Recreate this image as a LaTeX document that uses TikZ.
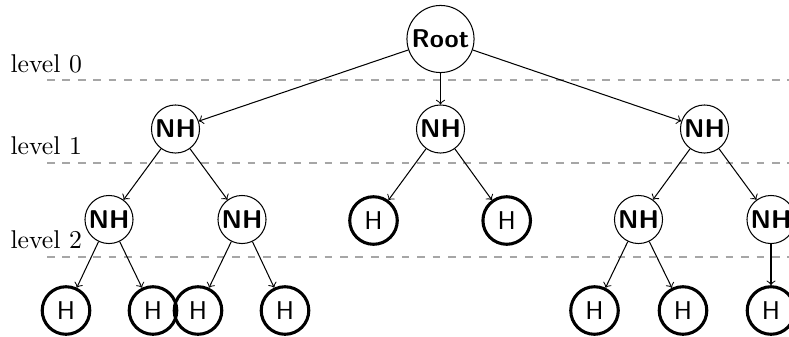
\documentclass[tikz,border=0pt]{standalone}
\begin{document}
\begin{tikzpicture}[x=0.389pt,y=-0.389pt,
  rootnode/.style={circle,draw,inner sep=0pt,minimum size=26.1pt,font=\sffamily\bfseries},
  inner/.style={circle,draw,inner sep=0pt,minimum size=18.7pt,font=\sffamily\bfseries},
  leaf/.style={circle,draw,line width=1.2pt,inner sep=0pt,minimum size=18.5pt,font=\sffamily},
  link/.style={->},
  levelline/.style={draw=gray!70,line width=0.5pt,dash pattern=on 3pt off 3pt},
  levellabel/.style={anchor=base west,inner sep=0pt}]
\useasboundingbox (0,0) rectangle (789,336);

% level separators
\foreach \i/\y in {0/80,1/163,2/257}{
  \coordinate (s\i) at (47,\y);
  \coordinate (e\i) at (789,\y);
  \draw[levelline] (s\i) -- (e\i);
}
\node[levellabel] (lv0) at (10,72) {level 0};
\node[levellabel] (lv1) at (10,154) {level 1};
\node[levellabel] (lv2) at (10,248) {level 2};

% root
\node[rootnode] (root) at (440.5,39) {Root};

% level 1
\node[inner] (a) at (175.5,129) {NH};
\node[inner] (b) at (440.5,129) {NH};
\node[inner] (c) at (704.5,129) {NH};

% level 2
\node[inner] (aa) at (109,219.5) {NH};
\node[inner] (ab) at (242,219.5) {NH};
\node[leaf]  (ba) at (373.5,220.5) {H};
\node[leaf]  (bb) at (506.7,220.5) {H};
\node[inner] (ca) at (638.5,219.5) {NH};
\node[inner] (cb) at (771,219.5) {NH};

% level 3
\node[leaf] (aaa) at (66,310.5) {H};
\node[leaf] (aab) at (153,310.5) {H};
\node[leaf] (aba) at (198,310.5) {H};
\node[leaf] (abb) at (285,310.5) {H};
\node[leaf] (caa) at (594.5,310.5) {H};
\node[leaf] (cab) at (683,310.5) {H};
\node[leaf] (cba) at (771,310.5) {H};

% edges
\foreach \p/\q in {root/a,root/b,root/c,a/aa,a/ab,b/ba,b/bb,c/ca,c/cb,
                   aa/aaa,aa/aab,ab/aba,ab/abb,ca/caa,ca/cab,cb/cba}{
  \draw[link] (\p) -- (\q);
}
\end{tikzpicture}
\end{document}
